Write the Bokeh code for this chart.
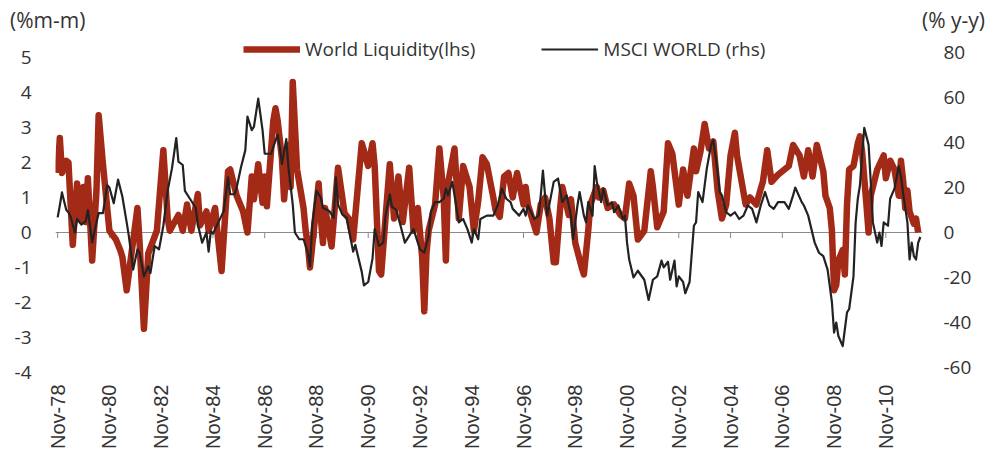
from bokeh.plotting import figure
from bokeh.layouts import column
from bokeh.models import Range1d, LinearAxis, FixedTicker, Span, Legend, LegendItem, Div
from bokeh.embed import file_html
from bokeh.resources import INLINE
import math

# ---- data (months since Nov-1978) ----
tick_months = [0, 24, 48, 72, 96, 120, 144, 168, 192, 216, 240, 264, 288, 312, 336, 360, 384]
tick_labels = ["Nov-78", "Nov-80", "Nov-82", "Nov-84", "Nov-86", "Nov-88", "Nov-90", "Nov-92",
               "Nov-94", "Nov-96", "Nov-98", "Nov-00", "Nov-02", "Nov-04", "Nov-06", "Nov-08", "Nov-10"]

left_ticks = [-4, -3, -2, -1, 0, 1, 2, 3, 4, 5]
left_labels = ["-4", "-3", "-2", "-1", "0", "1", "2", "3", "4", "5"]
right_ticks = [-60, -40, -20, 0, 20, 40, 60, 80]
right_labels = ["-60", "-40", "-20", "0", "20", "40", "60", "80"]

left_unit = "(%m-m)"
right_unit = "(% y-y)"
series_names = ["World Liquidity(lhs)", "MSCI WORLD (rhs)"]

liq_month = [0, 1, 2, 4, 5, 7, 9, 11, 12, 13, 14, 16, 18, 19, 21, 24, 27, 29, 30, 32,
             37, 38, 40, 42, 46, 49, 51, 52, 56, 58, 60, 62, 65, 66, 69, 70, 73, 74, 76, 79,
             80, 83, 86, 88, 90, 91, 93, 95, 96, 97, 100, 101, 102, 104, 105, 107, 108, 109, 111, 114,
             115, 116, 117, 121, 122, 123, 124, 127, 130, 133, 135, 137, 141, 144, 146, 147, 149, 150, 152, 154,
             156, 158, 160, 163, 165, 167, 169, 170, 171, 172, 175, 177, 179, 180, 181, 184, 185, 186, 188, 191,
             193, 195, 197, 199, 202, 203, 205, 207, 209, 211, 213, 216, 217, 218, 222, 224, 226, 228, 230, 231,
             233, 234, 237, 238, 240, 243, 244, 246, 247, 250, 251, 253, 255, 258, 261, 263, 265, 267, 269, 272,
             275, 276, 278, 281, 283, 285, 288, 290, 292, 295, 296, 298, 300, 302, 304, 306, 308, 310, 312, 314,
             315, 319, 321, 324, 326, 327, 329, 331, 334, 337, 339, 341, 344, 346, 348, 350, 352, 355, 356, 358,
             359, 360, 361, 362, 364, 365, 366, 367, 369, 371, 372, 373, 375, 376, 377, 380, 383, 384, 386, 388,
             390, 391, 392, 393, 394, 395, 397, 398, 399]
liq_value = [1.7, 2.7, 1.7, 2.05, 2.0, -0.35, 1.4, 0.35, 1.3, 0.3, 1.55, -0.8, 1.2, 3.35, 1.95, 0.05, -0.2, -0.5, -0.7, -1.65,
             0.7, -0.3, -2.75, -0.6, 0.05, 2.35, 0.4, 0.05, 0.5, 0.05, 0.8, 0.05, 1.1, 0.2, 0.6, 0.05, 0.7, 0.05, -1.1, 1.75,
             1.8, 1.05, 0.6, 0.0, 1.6, 0.95, 1.95, 0.85, 1.6, 0.75, 3.2, 3.55, 3.2, 2.1, 0.95, 2.5, 1.3, 4.3, 1.8, 0.7,
             0.05, -0.35, -1.0, 1.4, 0.45, -0.3, 0.7, -0.4, 1.85, 0.55, 0.4, -0.2, 2.55, 1.9, 2.55, 1.9, -1.1, -1.2, 0.4, 1.95,
             0.4, 1.6, 0.3, 1.85, 0.05, 0.7, -0.7, -2.25, -0.6, 0.05, 0.8, 2.4, 1.0, -0.8, 1.4, 2.4, 1.4, 0.4, 1.9, 1.3,
             0.05, 0.9, 2.15, 1.95, 1.0, 0.65, 0.45, 1.6, 1.7, 1.0, 1.7, 0.8, 1.3, 0.8, 0.0, 0.8, 1.0, 0.4, -0.85, -0.85,
             0.7, 1.3, 0.5, 0.95, -0.3, -1.0, -1.2, 0.05, 0.8, 1.3, 1.0, 1.2, 0.7, 0.8, 0.5, 0.4, 1.4, 1.05, -0.2, 0.05,
             1.75, 1.3, 0.15, 0.6, 2.55, 2.25, 0.8, 1.8, 1.05, 2.4, 1.75, 2.3, 3.1, 2.4, 2.6, 1.2, 0.4, 0.8, 2.2, 2.85,
             2.2, 0.8, 1.0, 0.8, 1.25, 1.45, 2.35, 1.45, 1.65, 1.8, 1.9, 2.5, 2.2, 1.6, 2.35, 1.6, 2.5, 1.75, 1.05, 0.7,
             0.05, -1.65, -1.5, -0.8, -0.5, -1.2, 0.8, 1.8, 1.9, 2.55, 2.75, 2.3, 0.8, 0.0, 1.05, 1.8, 2.2, 1.55, 2.05, 1.8,
             1.05, 2.05, 1.5, 0.7, 1.2, 0.6, 0.25, 0.4, 0.0]

msci_month = [0, 1, 2, 4, 5, 6, 8, 9, 11, 13, 14, 16, 18, 19, 21, 23, 24, 26, 28, 30,
              32, 33, 35, 37, 38, 40, 42, 43, 45, 47, 49, 51, 53, 55, 56, 58, 59, 62, 64, 65,
              67, 69, 70, 71, 72, 74, 77, 79, 80, 82, 83, 85, 87, 88, 90, 91, 93, 95, 96, 99,
              100, 102, 103, 104, 106, 107, 109, 110, 112, 114, 116, 117, 118, 120, 122, 123, 126, 128, 129, 130,
              132, 134, 137, 138, 141, 142, 144, 146, 147, 149, 151, 152, 154, 155, 157, 159, 161, 163, 165, 167,
              168, 170, 172, 173, 175, 177, 179, 180, 181, 183, 185, 186, 188, 190, 192, 193, 195, 196, 199, 202,
              204, 206, 208, 210, 211, 214, 216, 217, 218, 221, 223, 224, 225, 226, 227, 230, 232, 234, 236, 238,
              239, 241, 242, 244, 245, 246, 248, 249, 250, 252, 253, 255, 257, 258, 260, 262, 263, 264, 265, 267,
              269, 272, 274, 276, 278, 280, 281, 283, 284, 286, 287, 288, 290, 291, 293, 295, 296, 297, 299, 301,
              303, 304, 306, 307, 308, 310, 312, 314, 316, 318, 320, 322, 324, 326, 328, 330, 332, 334, 337, 339,
              341, 342, 345, 346, 348, 351, 353, 355, 357, 359, 360, 361, 362, 364, 365, 366, 367, 369, 370, 371,
              372, 373, 374, 376, 377, 378, 380, 381, 382, 383, 385, 386, 388, 390, 391, 392, 394, 395, 396, 397,
              398, 399, 400]
msci_value = [6.7, 12, 17.8, 10, 9, 7, 0, 6, 3.5, 5, 10, -4.4, 4.5, 8.6, 8.6, 21, 20, 13, 23.5, 16,
              4.5, -1.5, -16.5, -7.5, -9, -19.5, -15, -18, -6, -7.5, 3, 18.5, 28.5, 42, 31.5, 30, 18.5, 14, 11, 3.5,
              -4.5, 0, -8.5, 0.5, -0.5, 3.5, 9.5, 24.5, 17, 17, 20, 29, 36.5, 51.5, 45.5, 47, 59.5, 45.5, 35, 35,
              38, 43.5, 38, 30.5, 41.5, 29, 12.5, 0, -3, -3, -9, -15, 3, 18.5, 15.5, 11, 9.5, 6.5, 24.5, 12.5,
              8, 6.5, -8.5, -5.5, -17.5, -23.5, -22, -11.5, 1.5, -6, -4.5, 7.5, 17, 11.5, 10, 3, -4.5, -1.5, 1.5, -4.5,
              -7.5, -9, -1.5, 9, 13.5, 13.5, 15, 19.5, 16.5, 22.5, 10.5, 4.5, 6, 1.5, -4.5, 1.5, -3, 6, 7.5, 7.5,
              12, 19.5, 15, 13.5, 10.5, 7.5, 10.5, 7.5, 12, 6, 7.5, 16.5, 27.5, 16.5, 7.5, 22.5, 24, 13.5, 16.5, 7.5,
              -3, 12, 18, 7.5, 4.5, 13.5, 7.5, 29.5, 22.5, 13.5, 19.5, 12, 13.5, 9, 12, 6, 7.5, -4.5, -12, -20,
              -17, -21, -30, -21, -19.5, -12.5, -15.5, -13, -21, -12.5, -24, -19.5, -22, -27, -22, 3, 4.5, 18, 13.5, 28.5,
              39, 41, 27, 18, 16.5, 9, 7.5, 9, 6, 7.5, 12, 10.5, 4.5, 12, 18, 12, 10.5, 13.5, 13.5, 10.5,
              16.5, 20, 13.5, 12, 7.5, -4.5, -9, -10.5, -16.5, -31, -44.5, -40, -46, -50.5, -43, -35.5, -34, -19.5, 4.5, 15,
              21, 34.5, 46.5, 39, 22.5, 4.5, -4.5, 0, -6, 4.5, 3, 15, 19.5, 29.5, 25, 17.5, 4.5, -12, -4.5, -10.5,
              -12, -4.5, -2]

RED = "#A32A16"
BLACK = "#222222"
TXT = "#333333"
FONT = "Open Sans"

W = 987
HEAD_H = 34
MAIN_H = 420

# ---- header with the two unit labels ----
head_html = (
    '<div style="position:relative;width:%dpx;height:%dpx;font-family:\'Open Sans\';'
    'font-size:21px;line-height:24px;color:%s;">'
    '<span style="position:absolute;left:10px;top:8px;white-space:nowrap;">%s</span>'
    '<span style="position:absolute;right:2px;top:8px;white-space:nowrap;">%s</span>'
    '</div>' % (W, HEAD_H, TXT, left_unit, right_unit))
head = Div(text=head_html, width=W, height=HEAD_H, margin=(0, 0, 0, 0))

# ---- main chart ----
p = figure(width=W, height=MAIN_H, output_backend="svg", toolbar_location=None, title=None,
           x_range=Range1d(-1, 401), y_range=Range1d(-4, 5.657),
           min_border_left=55, min_border_right=65, min_border_top=0, min_border_bottom=82)
p.outline_line_color = None
p.xgrid.grid_line_color = None
p.ygrid.grid_line_color = None

p.extra_y_ranges = {"msci": Range1d(-62.22, 88.0)}

ya = p.yaxis[0]
ya.ticker = FixedTicker(ticks=left_ticks)
ya.major_label_overrides = {t: s for t, s in zip(left_ticks, left_labels)}
ya.axis_line_color = None
ya.major_tick_line_color = None
ya.minor_tick_line_color = None
ya.major_label_standoff = 18
ya.major_label_text_font = FONT
ya.major_label_text_font_size = "19px"
ya.major_label_text_color = TXT

ra = LinearAxis(y_range_name="msci", ticker=FixedTicker(ticks=right_ticks))
ra.major_label_overrides = {t: s for t, s in zip(right_ticks, right_labels)}
ra.axis_line_color = None
ra.major_tick_line_color = None
ra.minor_tick_line_color = None
ra.major_label_standoff = 15
ra.major_label_text_font = FONT
ra.major_label_text_font_size = "19px"
ra.major_label_text_color = TXT
p.add_layout(ra, "right")

xa = p.xaxis[0]
xa.ticker = FixedTicker(ticks=tick_months)
xa.major_label_overrides = {m: s for m, s in zip(tick_months, tick_labels)}
xa.major_label_orientation = math.pi / 2
xa.axis_line_color = None
xa.major_tick_line_color = None
xa.minor_tick_line_color = None
xa.major_label_standoff = 6
xa.major_label_text_font = "Liberation Sans"
xa.major_label_text_font_size = "20px"
xa.major_label_text_color = TXT

# zero line with small ticks
p.add_layout(Span(location=0, dimension="width", line_color="#8a8a8a", line_width=1, level="underlay"))
p.segment(x0=tick_months, y0=[0] * len(tick_months), x1=tick_months, y1=[-0.16] * len(tick_months),
          line_color="#8a8a8a", line_width=1)

r1 = p.line(liq_month, liq_value, line_color=RED, line_width=6.5, line_join="round")
r2 = p.line(msci_month, msci_value, y_range_name="msci", line_color=BLACK, line_width=2.2,
            line_join="round")

legend = Legend(items=[LegendItem(label=series_names[0], renderers=[r1]),
                       LegendItem(label=series_names[1], renderers=[r2])],
                orientation="horizontal", location=(188, 310),
                glyph_width=57, glyph_height=20, label_height=20, label_standoff=5,
                spacing=66, padding=0, margin=0,
                border_line_color=None, background_fill_alpha=0,
                label_text_font=FONT, label_text_font_size="19px", label_text_color=TXT)
p.add_layout(legend)

layout = column(head, p, spacing=0)
open("out.html", "w").write(file_html(layout, INLINE))
